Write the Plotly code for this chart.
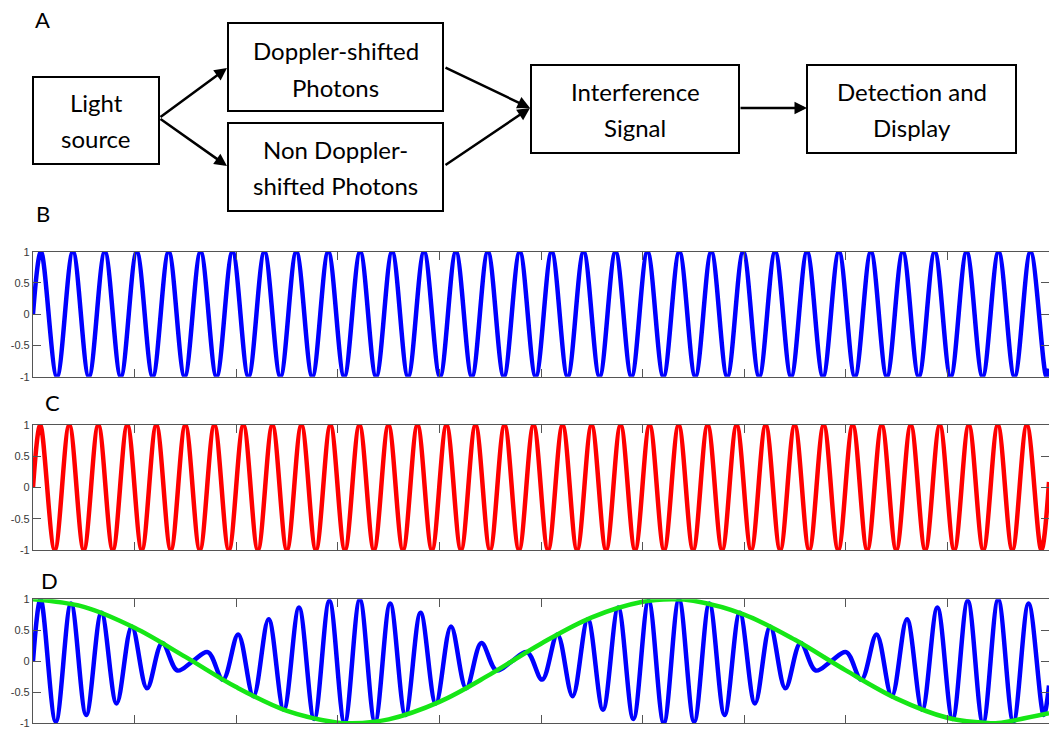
import plotly.graph_objects as go

W, H = 1049, 729

# ---------------- data ----------------
# Panel B (blue): turning points of the wave (time, value), plus start/end samples
b_t = [0.0, 0.0785, 0.2356, 0.3927, 0.5498, 0.7069, 0.8639, 1.0210, 1.1781, 1.3352, 1.4923,
       1.6493, 1.8064, 1.9635, 2.1206, 2.2777, 2.4347, 2.5918, 2.7489, 2.9060, 3.0631,
       3.2201, 3.3772, 3.5343, 3.6914, 3.8485, 4.0055, 4.1626, 4.3197, 4.4768, 4.6339,
       4.7909, 4.9480, 5.1051, 5.2622, 5.4193, 5.5763, 5.7334, 5.8905, 6.0476, 6.2046,
       6.3617, 6.5188, 6.6759, 6.8330, 6.9900, 7.1471, 7.3042, 7.4613, 7.6184, 7.7754,
       7.9325, 8.0896, 8.2467, 8.4038, 8.5608, 8.7179, 8.8750, 9.0321, 9.1892, 9.3462,
       9.5033, 9.6604, 9.8175, 9.9746, 10.0]
b_y = [0.0, 1, -1, 1, -1, 1, -1, 1, -1, 1, -1,
       1, -1, 1, -1, 1, -1, 1, -1, 1, -1,
       1, -1, 1, -1, 1, -1, 1, -1, 1, -1,
       1, -1, 1, -1, 1, -1, 1, -1, 1, -1,
       1, -1, 1, -1, 1, -1, 1, -1, 1, -1,
       1, -1, 1, -1, 1, -1, 1, -1, 1, -1,
       1, -1, 1, -1, -0.873]

# Panel C (red)
c_t = [0.0, 0.0714, 0.2142, 0.3570, 0.4998, 0.6426, 0.7854, 0.9282, 1.0710, 1.2138, 1.3566,
       1.4994, 1.6422, 1.7850, 1.9278, 2.0706, 2.2134, 2.3562, 2.4990, 2.6418, 2.7846,
       2.9274, 3.0702, 3.2130, 3.3558, 3.4986, 3.6414, 3.7842, 3.9270, 4.0698, 4.2126,
       4.3554, 4.4982, 4.6410, 4.7838, 4.9266, 5.0694, 5.2122, 5.3550, 5.4978, 5.6406,
       5.7834, 5.9262, 6.0690, 6.2118, 6.3546, 6.4974, 6.6402, 6.7830, 6.9258, 7.0686,
       7.2114, 7.3542, 7.4970, 7.6398, 7.7826, 7.9254, 8.0682, 8.2110, 8.3538, 8.4966,
       8.6394, 8.7822, 8.9250, 9.0678, 9.2106, 9.3534, 9.4962, 9.6390, 9.7818, 9.9246,
       10.0]
c_y = [0.0, 1, -1, 1, -1, 1, -1, 1, -1, 1, -1,
       1, -1, 1, -1, 1, -1, 1, -1, 1, -1,
       1, -1, 1, -1, 1, -1, 1, -1, 1, -1,
       1, -1, 1, -1, 1, -1, 1, -1, 1, -1,
       1, -1, 1, -1, 1, -1, 1, -1, 1, -1,
       1, -1, 1, -1, 1, -1, 1, -1, 1, -1,
       1, -1, 1, -1, 1, -1, 1, -1, 1, -1,
       0.088]

# Panel D (blue beat signal)
d_t = [0.0, 0.0748, 0.2244, 0.3740, 0.5236, 0.6732, 0.8228, 0.9724, 1.1220, 1.2716, 1.4212,
       1.5708, 1.7204, 1.8700, 2.0196, 2.1692, 2.3188, 2.4684, 2.6180, 2.7676, 2.9172,
       3.0668, 3.2164, 3.3660, 3.5156, 3.6652, 3.8148, 3.9644, 4.1140, 4.2636, 4.4132,
       4.5628, 4.7124, 4.8620, 5.0116, 5.1612, 5.3108, 5.4604, 5.6100, 5.7596, 5.9092,
       6.0588, 6.2084, 6.3580, 6.5076, 6.6572, 6.8068, 6.9564, 7.1060, 7.2556, 7.4052,
       7.5548, 7.7044, 7.8540, 8.0036, 8.1532, 8.3028, 8.4524, 8.6020, 8.7516, 8.9012,
       9.0508, 9.2004, 9.3500, 9.4996, 9.6492, 9.7988, 9.9484, 10.0]
d_y = [0.0, 0.997, -0.975, 0.931, -0.866, 0.782, -0.680, 0.563, -0.434, 0.295, -0.149,
       0.000, 0.149, -0.295, 0.434, -0.563, 0.680, -0.782, 0.866, -0.931, 0.975,
       -0.997, 0.997, -0.975, 0.931, -0.866, 0.782, -0.680, 0.563, -0.434, 0.295,
       -0.149, 0.000, 0.149, -0.295, 0.434, -0.563, 0.680, -0.782, 0.866, -0.931,
       0.975, -0.997, 0.997, -0.975, 0.931, -0.866, 0.782, -0.680, 0.563, -0.434,
       0.295, -0.149, 0.000, 0.149, -0.295, 0.434, -0.563, 0.680, -0.782, 0.866,
       -0.931, 0.975, -0.997, 0.997, -0.975, 0.931, -0.866, -0.392]

# Panel D (green envelope)
g_t = [0.0, 0.5, 1.0, 1.5, 2.0, 2.5, 3.0, 3.1416, 3.5, 4.0, 4.5, 5.0, 5.5, 6.0, 6.2832,
       6.5, 7.0, 7.5, 8.0, 8.5, 9.0, 9.4248, 9.5, 10.0]
g_y = [1.0, 0.878, 0.540, 0.071, -0.416, -0.801, -0.990, -1.0, -0.936, -0.654, -0.211,
       0.284, 0.709, 0.960, 1.0, 0.977, 0.754, 0.347, -0.146, -0.602, -0.911, -1.0,
       -0.997, -0.839]

y_ticks = [-1, -0.5, 0, 0.5, 1]
y_tick_text = ["-1", "-0.5", "0", "0.5", "1"]
x_ticks = [1, 2, 3, 4, 5, 6, 7, 8, 9]

# diagram content
boxes = [  # left, top, right, bottom (pixels)
    (33, 77, 159, 164),
    (228, 23, 443, 111),
    (228, 123, 443, 211),
    (531, 65, 739, 153),
    (807, 65, 1016, 153),
]
box_lines = [
    ("Light", 96, 102.4), ("source", 96, 138.7),
    ("Doppler-shifted", 335.5, 50.7), ("Photons", 335.5, 87.4),
    ("Non Doppler-", 335.5, 149.0), ("shifted Photons", 335.5, 185.7),
    ("Interference", 635, 91.4), ("Signal", 635, 127.4),
    ("Detection and", 911.5, 91.4), ("Display", 911.5, 127.4),
]
arrows = [  # tail x, tail y, head x, head y (pixels)
    (159, 118, 227, 68),
    (159, 118, 227, 166),
    (444, 67, 530, 108),
    (444, 166, 530, 108),
    (739, 108, 807, 108),
]
letters = [("A", 42.5, 19.5), ("B", 42.5, 213), ("C", 52.5, 402.5), ("D", 49.5, 580)]


def px(x):
    return x / W


def py(y):
    return 1 - y / H


fig = go.Figure()

panels = [  # (x axis, y axis, top px, bottom px)
    ("x", "y", 251.7, 376.7),
    ("x2", "y2", 425.0, 550.0),
    ("x3", "y3", 599.3, 723.3),
]

LW = 4.5
fig.add_trace(go.Scatter(x=b_t, y=b_y, mode="lines", line=dict(color="#0000ff", width=LW, shape="spline"),
                         xaxis="x", yaxis="y", showlegend=False, hoverinfo="skip"))
fig.add_trace(go.Scatter(x=c_t, y=c_y, mode="lines", line=dict(color="#ff0000", width=LW, shape="spline"),
                         xaxis="x2", yaxis="y2", showlegend=False, hoverinfo="skip"))
fig.add_trace(go.Scatter(x=d_t, y=d_y, mode="lines", line=dict(color="#0000ff", width=LW, shape="spline"),
                         xaxis="x3", yaxis="y3", showlegend=False, hoverinfo="skip"))
fig.add_trace(go.Scatter(x=g_t, y=g_y, mode="lines", line=dict(color="#16e616", width=LW, shape="spline"),
                         xaxis="x3", yaxis="y3", showlegend=False, hoverinfo="skip"))

layout = dict(
    width=W, height=H,
    margin=dict(l=0, r=0, t=0, b=0),
    paper_bgcolor="white", plot_bgcolor="white",
    showlegend=False,
)

axis_line = dict(showline=True, linecolor="#555555", linewidth=1.2, mirror="ticks",
                 ticks="inside", ticklen=8, tickcolor="#555555", tickwidth=1.2,
                 showgrid=False, zeroline=False, automargin=False, fixedrange=True)

for i, (xa, ya, top, bot) in enumerate(panels):
    xkey = "xaxis" if xa == "x" else "xaxis" + xa[1:]
    ykey = "yaxis" if ya == "y" else "yaxis" + ya[1:]
    layout[xkey] = dict(axis_line, domain=[px(33), 1.0], range=[0, 10], tickmode="array",
                        tickvals=x_ticks, showticklabels=False, anchor=ya)
    layout[ykey] = dict(axis_line, domain=[py(bot), py(top)], range=[-1, 1], tickmode="array",
                        tickvals=y_ticks, ticktext=y_tick_text, anchor=xa,
                        ticklabeloverflow="allow",
                        tickfont=dict(family="Liberation Sans, Arial", size=11, color="#383838"))

shapes = []
for (l, t, r, b) in boxes:
    shapes.append(dict(type="rect", xref="paper", yref="paper", x0=px(l), x1=px(r), y0=py(b), y1=py(t),
                       line=dict(color="black", width=2), fillcolor="white", layer="above"))
layout["shapes"] = shapes

annotations = []
for (txt, cx, cy) in box_lines:
    annotations.append(dict(text=txt, x=px(cx), y=py(cy), xref="paper", yref="paper", showarrow=False,
                            xanchor="center", yanchor="middle",
                            font=dict(family="Lato", size=24, color="black")))
for (txt, cx, cy) in letters:
    annotations.append(dict(text=txt, x=px(cx), y=py(cy), xref="paper", yref="paper", showarrow=False,
                            xanchor="center", yanchor="middle",
                            font=dict(family="Lato", size=22, color="black")))
for (tx, ty, hx, hy) in arrows:
    annotations.append(dict(text="", x=px(hx), y=py(hy), xref="paper", yref="paper",
                            ax=tx - hx, ay=ty - hy, axref="pixel", ayref="pixel",
                            showarrow=True, arrowhead=2, arrowsize=1, arrowwidth=2.5,
                            arrowcolor="black", standoff=0, startstandoff=0))
layout["annotations"] = annotations

fig.update_layout(**layout)

fig.write_html("out.html", post_script="document.body.style.margin='0';",
               config={"displayModeBar": False})
